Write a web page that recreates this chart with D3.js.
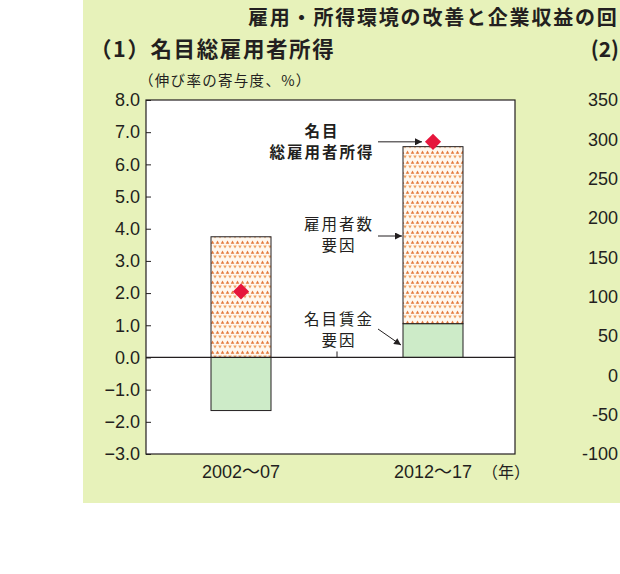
<!DOCTYPE html>
<html>
<head>
<meta charset="utf-8">
<script src="https://cdn.jsdelivr.net/npm/d3@7"></script>
<style>
  body { margin: 0; background: #fff; }
  svg { display: block; }
  text { font-family: "Liberation Sans", "Noto Sans CJK JP", sans-serif; fill: #231f20; }
  .jp { font-family: "Noto Sans CJK JP", sans-serif; }
</style>
</head>
<body>
<svg id="chart" width="620" height="574"></svg>
<script>
// values
const periods = ["2002～07", "2012～17"];
const wageFactor = [-1.65, 1.05];      // 名目賃金要因
const employeeFactor = [3.75, 5.5];    // 雇用者数要因
const totalIncome = [2.05, 6.7];       // 名目総雇用者所得
const yTicks = [8, 7, 6, 5, 4, 3, 2, 1, 0, -1, -2, -3];
const rightTicks = [350, 300, 250, 200, 150, 100, 50, 0, -50, -100];

const svg = d3.select("#chart");

// panel background
svg.append("rect").attr("x", 83).attr("y", 0).attr("width", 537).attr("height", 503)
  .attr("fill", "#e7f2ba");

// pattern for the employee factor (small triangles)
const defs = svg.append("defs");
const pat = defs.append("pattern").attr("id", "tri").attr("patternUnits", "userSpaceOnUse")
  .attr("width", 5).attr("height", 10);
pat.append("rect").attr("width", 5).attr("height", 10).attr("fill", "#fff8ef");
pat.append("path").attr("d", "M2.5,0.6 L4.3,3.8 L0.7,3.8 Z").attr("fill", "#e47a3c");
pat.append("path").attr("d", "M-1.8,5.4 L1.8,5.4 L0,8.6 Z M3.2,5.4 L6.8,5.4 L5,8.6 Z").attr("fill", "#efa264");

defs.append("marker").attr("id", "arr").attr("viewBox", "0 0 10 10")
  .attr("refX", 10).attr("refY", 5).attr("markerWidth", 9).attr("markerHeight", 7)
  .attr("markerUnits", "userSpaceOnUse").attr("orient", "auto")
  .append("path").attr("d", "M0,0 L10,5 L0,10 Z").attr("fill", "#231f20");

// titles
svg.append("text").attr("class", "jp").attr("x", 248).attr("y", 25)
  .attr("font-size", 20).attr("font-weight", "bold").attr("letter-spacing", 1.8)
  .text("雇用・所得環境の改善と企業収益の回");
svg.append("text").attr("class", "jp").attr("x", 90).attr("y", 57)
  .attr("font-size", 21.5).attr("font-weight", "bold").attr("letter-spacing", 1.6)
  .text("（1）名目総雇用者所得");
svg.append("text").attr("class", "jp").attr("x", 619).attr("y", 57)
  .attr("text-anchor", "end").attr("font-size", 21).attr("font-weight", "bold")
  .text("(2)");
svg.append("text").attr("class", "jp").attr("x", 139).attr("y", 86)
  .attr("font-size", 14.5).attr("letter-spacing", 1.3)
  .text("（伸び率の寄与度、%）");

// scales
const y = d3.scaleLinear().domain([-3, 8]).range([454, 100]);
const x = d3.scaleBand().domain(periods).range([145, 529]).padding(0);
const yRight = d3.scaleLinear().domain([-100, 350]).range([454, 100]);
const barW = 60;
const left = 146, right = 515;

// plot frame
svg.append("rect").attr("x", left).attr("y", y(8)).attr("width", right - left)
  .attr("height", y(-3) - y(8)).attr("fill", "#fff").attr("stroke", "#231f20").attr("stroke-width", 1.2);

// stacked segments: wage factor first, employee factor on top
const segs = [];
periods.forEach((p, i) => {
  let pos = 0, neg = 0;
  [[wageFactor[i], "#cdebc8"], [employeeFactor[i], "url(#tri)"]].forEach(([v, fill]) => {
    let y0, y1;
    if (v >= 0) { y0 = pos; y1 = pos + v; pos = y1; }
    else { y0 = neg; y1 = neg + v; neg = y1; }
    segs.push({ p, y0, y1, fill });
  });
});

svg.append("g").selectAll("rect").data(segs).join("rect")
  .attr("x", d => x(d.p) + x.bandwidth() / 2 - barW / 2)
  .attr("width", barW)
  .attr("y", d => y(Math.max(d.y0, d.y1)))
  .attr("height", d => Math.abs(y(d.y0) - y(d.y1)))
  .attr("fill", d => d.fill)
  .attr("stroke", "#231f20").attr("stroke-width", 1);

// zero line and middle tick
svg.append("line").attr("x1", left).attr("x2", right).attr("y1", y(0)).attr("y2", y(0))
  .attr("stroke", "#231f20").attr("stroke-width", 1.2);
svg.append("line").attr("x1", x(periods[1])).attr("x2", x(periods[1]))
  .attr("y1", y(0)).attr("y2", y(0) - 6).attr("stroke", "#231f20").attr("stroke-width", 1);

// left axis
const yAxis = d3.axisLeft(y).tickValues(yTicks).tickSize(-5).tickPadding(7)
  .tickFormat(d3.format(".1f"));
const ga = svg.append("g").attr("transform", `translate(${left},0)`).call(yAxis);
ga.select(".domain").remove();
ga.selectAll("line").attr("stroke", "#231f20");
ga.selectAll("text").attr("font-size", 18).attr("font-family", "Liberation Sans").attr("fill", "#231f20")
  .attr("x", -6);

// right panel axis labels (panel 2 is cut off)
svg.append("g").selectAll("text").data(rightTicks).join("text")
  .attr("x", 618).attr("y", d => yRight(d)).attr("dy", "0.35em")
  .attr("text-anchor", "end").attr("font-size", 18).text(d => d);

// category labels
svg.append("g").selectAll("text").data(periods).join("text")
  .attr("x", d => x(d) + x.bandwidth() / 2).attr("y", 478)
  .attr("text-anchor", "middle").attr("font-size", 18).text(d => d);
svg.append("text").attr("class", "jp").attr("x", 530).attr("y", 478)
  .attr("text-anchor", "end").attr("font-size", 16).text("（年）");

// total income diamonds
svg.append("g").selectAll("path").data(periods).join("path")
  .attr("d", d3.symbol(d3.symbolSquare, 130))
  .attr("transform", (d, i) => `translate(${x(d) + x.bandwidth() / 2},${y(totalIncome[i])}) rotate(45)`)
  .attr("fill", "#e6163c");

// annotations
const b2 = x(periods[1]) + x.bandwidth() / 2;
function label(lines, cx, cy, bold) {
  const t = svg.append("text").attr("class", "jp").attr("text-anchor", "middle")
    .attr("font-size", 15.5).attr("letter-spacing", 2)
    .attr("font-weight", bold ? "bold" : "normal");
  lines.forEach((s, k) => t.append("tspan").attr("x", cx).attr("y", cy + k * 21).text(s));
}
label(["名目", "総雇用者所得"], 322, 137, true);
label(["雇用者数", "要因"], 339, 230, false);
label(["名目賃金", "要因"], 339, 325, false);

svg.append("line").attr("x1", 378).attr("y1", y(totalIncome[1]))
  .attr("x2", b2 - 11).attr("y2", y(totalIncome[1]))
  .attr("stroke", "#231f20").attr("stroke-width", 1).attr("marker-end", "url(#arr)");
svg.append("line").attr("x1", 378).attr("y1", 236).attr("x2", b2 - barW / 2 - 1).attr("y2", 236)
  .attr("stroke", "#231f20").attr("stroke-width", 1).attr("marker-end", "url(#arr)");
svg.append("line").attr("x1", 378).attr("y1", 329).attr("x2", b2 - barW / 2 - 2).attr("y2", 345)
  .attr("stroke", "#231f20").attr("stroke-width", 1).attr("marker-end", "url(#arr)");
</script>
</body>
</html>
